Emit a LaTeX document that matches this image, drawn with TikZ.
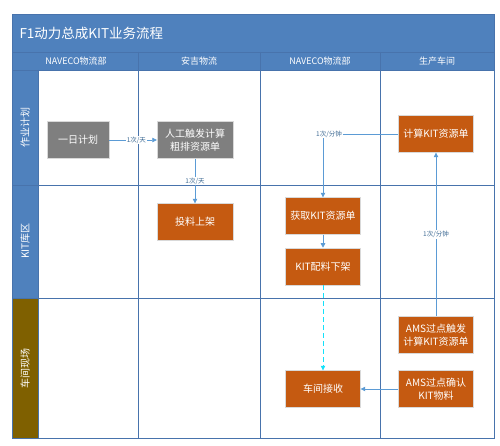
\documentclass[tikz,border=0pt]{standalone}
\usepackage{fontspec}
\setmainfont{Noto Sans CJK SC}
\usepackage{tikz}
\usetikzlibrary{arrows.meta, positioning, calc}
\definecolor{lanebl}{RGB}{79, 129, 189}
\definecolor{gridbl}{RGB}{72, 115, 172}
\definecolor{linkbl}{RGB}{91, 155, 213}
\definecolor{steporange}{RGB}{197, 90, 17}
\definecolor{stepgray}{RGB}{127, 127, 127}
\definecolor{siteolive}{RGB}{127, 96, 0}
\definecolor{flowcyan}{RGB}{20, 225, 250}

\begin{document}
\begin{tikzpicture}[
    x=1pt, y=-1pt,
    block/.style={rectangle, draw=black!15, fill=steporange, text=white, minimum width=75pt, minimum height=37pt, inner sep=0pt, align=center, font=\fontsize{10}{13}\selectfont},
    arrow/.style={-{Triangle[length=4.5pt, width=4.5pt]}, draw=linkbl, line width=0.7pt},
    rate/.style={fill=white, inner sep=1pt, text=linkbl!70!black, font=\fontsize{6.5}{7}\selectfont},
    grid/.style={draw=gridbl, line width=0.6pt},
    head/.style={text=white, font=\fontsize{9}{11}\selectfont}
]
\useasboundingbox (0,0) rectangle (500,446);

% frame, title and header row
\fill[white] (12,14) rectangle (494,438);
\fill[lanebl] (12,14) rectangle (494,70);
\fill[lanebl] (12,70) rectangle (38,298);
\fill[siteolive] (12,298) rectangle (38,438);
\draw[grid] (12,14) rectangle (494,438);
\draw[grid] (12,52) -- (494,52);
\draw[grid] (12,70) -- (494,70);
\draw[grid] (38,70) -- (38,438);
\foreach \x in {138, 260, 380}
    \draw[grid] (\x,52) -- (\x,438);
\foreach \y in {185, 298}
    \draw[grid] (12,\y) -- (494,\y);

\node[anchor=west, text=white, font=\fontsize{13.5}{16}\selectfont] (title) at (16,33) {F1动力总成KIT业务流程};

\node[head] (hnaveco) at (76,61) {NAVECO物流部};
\node[head] (hanji) at (199,61) {安吉物流};
\node[head] (hnaveco2) at (320,61) {NAVECO物流部};
\node[head] (hshop) at (437,61) {生产车间};

% lanes
\node[head, rotate=90, font=\fontsize{10}{12}\selectfont] (lplan) at (25,128) {作业计划};
\node[head, rotate=90, font=\fontsize{10}{12}\selectfont] (lstore) at (25,241) {KIT库区};
\node[head, rotate=90, font=\fontsize{10}{12}\selectfont] (lsite) at (25,368) {车间现场};

% steps
\node[block, fill=stepgray, minimum width=62pt] (plan) at (78,140) {一日计划};
\node[block, fill=stepgray, minimum width=76pt] (rough) at (195,140) {人工触发计算\\粗排资源单};
\node[block] (calc) at (436,134) {计算KIT资源单};
\node[block, minimum width=76pt] (feed) at (195,222) {投料上架};
\node[block] (getkit) at (323,216) {获取KIT资源单};
\node[block, below=13pt of getkit] (pick) {KIT配料下架};
\node[block] (recv) at (323,389) {车间接收};
\node[block] (amstrig) at (436,335) {AMS过点触发\\计算KIT资源单};
\node[block] (amsconf) at (436,389) {AMS过点确认\\KIT物料};

\draw[arrow] (plan) -- node[rate, pos=0.57] {1次/天} (rough);
\draw[arrow] (rough) -- node[rate] {1次/天} (feed);
\draw[arrow] (calc.west) -| node[rate, pos=0.46] {1次/分钟} (getkit.north);
\draw[arrow] (getkit) -- (pick);
\draw[arrow, draw=flowcyan, dash pattern=on 5pt off 3pt] (pick) -- (recv);
\draw[arrow] (amstrig) -- node[rate] {1次/分钟} (calc);
\draw[arrow] (amsconf) -- (recv);

\end{tikzpicture}
\end{document}
